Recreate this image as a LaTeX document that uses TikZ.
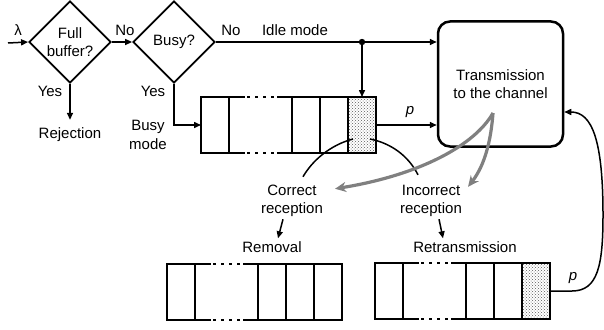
\documentclass[tikz,border=0pt]{standalone}
\usepackage{fontspec}
\setmainfont{Liberation Sans}
\usetikzlibrary{shapes.geometric,arrows.meta,patterns,calc}
\begin{document}
\begin{tikzpicture}[x=1pt,y=-1pt,
  font=\fontsize{15}{18.5}\selectfont,
  conn/.style={line width=1.5pt},
  arr/.style={conn,-{Triangle[length=7pt,width=6pt]}},
  dia/.style={diamond, draw, line width=1.8pt, aspect=1, minimum size=82pt, inner sep=0pt, align=center},
  lbl/.style={inner sep=0pt, align=center},
  qline/.style={line width=2.7pt},
  shadecell/.style={draw, qline, fill=white, pattern=crosshatch dots, pattern color=black!65,
    minimum width=28pt, minimum height=56pt, inner sep=0pt, outer sep=0pt, anchor=north east},
  graya/.style={draw=black!50, line width=3.2pt, -{Stealth[length=11pt,width=10pt]}},
  queue/.pic={
    \node[minimum width=175pt, minimum height=56pt, inner sep=0pt, outer sep=0pt, anchor=north west] (-box) at (0,0) {};
    \draw[qline] (0,0) rectangle (28,56);
    \draw[qline] (91,0) rectangle (175,56);
    \draw[qline] (28,0) -- (44,0) (76,0) -- (91,0) (28,56) -- (44,56) (76,56) -- (91,56);
    \draw[qline, dash pattern=on 3pt off 5pt] (46,0) -- (76,0) (46,56) -- (76,56);
    \foreach \x in {119,147} \draw[qline] (\x,0) -- (\x,56);
  }]
\useasboundingbox (0,0) rectangle (604,329);

% decision diamonds
\node[dia] (d1) at (70,42) {Full\\buffer?};
\node[dia] (d2) at (174,42) {Busy?};

% transmission box
\node[draw, line width=2.5pt, rounded corners=12pt, minimum width=125pt, minimum height=125pt,
      align=center] (tx) at (500.5,84) {Transmission\\to the channel};

% queues
\pic (qt) at (201,97) {queue};
\node[shadecell] (qts) at (qt-box.north east) {};
\pic (qbl) at (167,264) {queue};
\pic (qbr) at (375,263) {queue};
\node[shadecell] (qbrs) at (qbr-box.north east) {};

% labels
\coordinate (in) at (8,43);
\node[lbl] at (18,30) {λ};
\node[lbl] at (125,30) {No};
\node[lbl] at (231,30) {No};
\node[lbl] at (295,30) {Idle mode};
\node[lbl] at (50,91) {Yes};
\node[lbl] at (153,91) {Yes};
\node[lbl] (rej) at (70,135) {Rejection};
\node[lbl] at (148,135) {Busy\\mode};
\node[lbl] at (410,112) {\itshape p};
\node[lbl] at (573,278) {\itshape p};
\node[lbl] (cor) at (292,201) {Correct\\reception};
\node[lbl] (inc) at (431,201) {Incorrect\\reception};
\node[lbl] (rem) at (272,247) {Removal};
\node[lbl] (ret) at (465,247) {Retransmission};

% connectors
\draw[arr] (in) -- (d1.west);
\draw[arr] (d1.east) -- (d2.west);
\draw[arr] (d1.south) -- ([yshift=8pt]rej.north);
\draw[arr] (d2.south) |- (qt-box.west);
\draw[arr] (d2.east) -- (d2.east -| tx.west);
\coordinate (j) at (qts.north |- d2.east);
\fill (j) circle (3.2pt);
\draw[arr] (j) -- (qts.north);
\draw[arr] (qt-box.east) -- (qt-box.east -| tx.west);

% arcs from the shaded cell
\coordinate (a1) at (353,139);
\coordinate (a2) at (370,139);
\draw[conn] ([xshift=11pt,yshift=8pt]cor.north) .. controls (312,161) and (330,145) .. (a1);
\draw[conn] (a2) .. controls (390,143) and (408,155) .. ([xshift=-13pt,yshift=10pt]inc.north);

% gray arrows
\coordinate (g) at (493,113);
\draw[graya] (g) .. controls (475,145) and (420,175) .. ([xshift=43pt,yshift=-4pt]cor.north);
\draw[graya] (g) .. controls (491,140) and (485,165) .. ([xshift=37pt,yshift=-2pt]inc.north);

% small arrows
\draw[arr] ([xshift=-9pt,yshift=-2pt]cor.south) -- ([xshift=6pt,yshift=3pt]rem.north);
\draw[arr] ([xshift=8pt,yshift=-2pt]inc.south) -- ([xshift=-22pt,yshift=3pt]ret.north);

% feedback loop
\draw[arr] (qbr-box.east) -- ++(22,0) .. controls (598,291) and (603,265) .. (603,215)
  .. controls (603,140) and (592,112) .. ([yshift=-28pt]tx.east);
\end{tikzpicture}
\end{document}
